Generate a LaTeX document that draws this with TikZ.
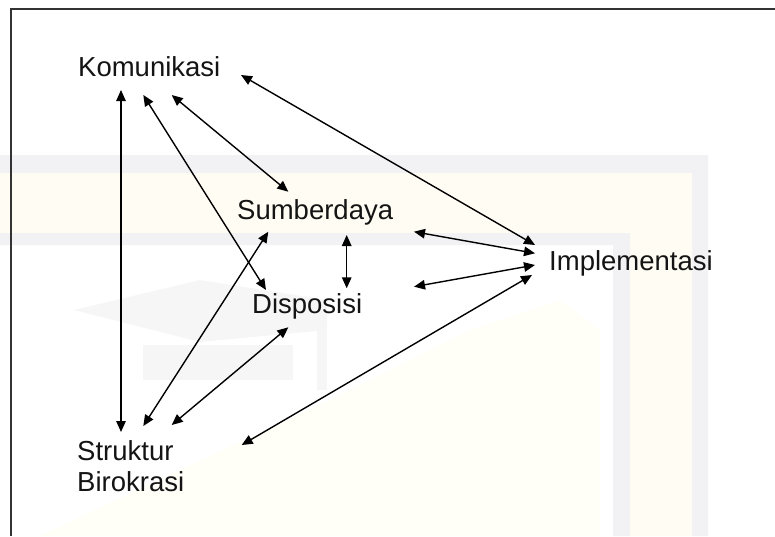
\documentclass[tikz,border=0pt]{standalone}
\usepackage{fontspec}
\setmainfont{Liberation Sans}
\usetikzlibrary{arrows.meta}
\definecolor{wmgray}{HTML}{F2F2F5}
\definecolor{wmyellow}{HTML}{FFFDF3}
\definecolor{wmgray2}{HTML}{F6F6F7}
\definecolor{wmyellow2}{HTML}{FFFEF7}
\tikzset{
  lbl/.style={inner sep=0pt, font=\fontsize{27.5}{31}\selectfont, text=black!92},
  arr/.style={line width=1.4pt, {Triangle[length=11pt,width=9.5pt]}-{Triangle[length=11pt,width=9.5pt]}},
  frame/.style={line width=2pt, draw=black!80}
}
\begin{document}
\begin{tikzpicture}[x=1pt,y=-1pt]
\useasboundingbox (0,0) rectangle (775,536);
% faint watermark
\fill[wmgray] (0,155) -- (708,155) -- (708,536) -- (692,536) -- (692,173) -- (0,173) -- cycle;
\fill[wmyellow] (0,173) -- (692,173) -- (692,536) -- (630,536) -- (630,233) -- (0,233) -- cycle;
\fill[wmgray] (0,233) -- (630,233) -- (630,536) -- (613,536) -- (613,245) -- (0,245) -- cycle;
\fill[wmgray2] (74,310) -- (200,280) -- (327,300) -- (327,330) -- (200,342) -- cycle;
\fill[wmgray2] (143,345) rectangle (293,380);
\fill[wmgray2] (317,330) rectangle (327,390);
\fill[wmyellow2] (40,536) -- (180,470) -- (330,400) -- (470,330) -- (560,300) -- (600,330) -- (600,536) -- cycle;
% frame
\draw[frame] (10.5,536) -- (10.5,8.5) -- (775,8.5);
% labels
\node[lbl, anchor=base west] (kom) at (78,76.5) {Komunikasi};
\node[lbl, anchor=base west] (sum) at (237,219.5) {Sumberdaya};
\node[lbl, anchor=base west] (dis) at (252,313.5) {Disposisi};
\node[lbl, anchor=base west] (imp) at (549,270.5) {Implementasi};
\node[lbl, anchor=north west, align=left] (str) at (77,440) {Struktur\\Birokrasi};
% connector end points
\coordinate (k1) at (121,90);
\coordinate (k2) at (143.3,95);
\coordinate (k3) at (171.7,95);
\coordinate (k4) at (241,75);
\coordinate (s1) at (121,432);
\coordinate (s2) at (143.3,426);
\coordinate (s3) at (171.7,425);
\coordinate (s4) at (241.7,445);
\coordinate (sd1) at (288.3,191.7);
\coordinate (sd2) at (268.3,231.7);
\coordinate (sd3) at (346.7,235);
\coordinate (sd4) at (414,231.7);
\coordinate (d1) at (266,290);
\coordinate (d2) at (288.3,327.3);
\coordinate (d3) at (346.7,288.3);
\coordinate (d4) at (414,286.7);
\coordinate (i1) at (535,245);
\coordinate (i2) at (535,253.3);
\coordinate (i3) at (535,265);
\coordinate (i4) at (532,275);
% connectors
\draw[arr] (k1) -- (s1);
\draw[arr] (k2) -- (d1);
\draw[arr] (k3) -- (sd1);
\draw[arr] (k4) -- (i1);
\draw[arr] (sd4) -- (i2);
\draw[arr] (d4) -- (i3);
\draw[arr] (sd3) -- (d3);
\draw[arr] (s4) -- (i4);
\draw[arr] (s2) -- (sd2);
\draw[arr] (s3) -- (d2);
\end{tikzpicture}
\end{document}
